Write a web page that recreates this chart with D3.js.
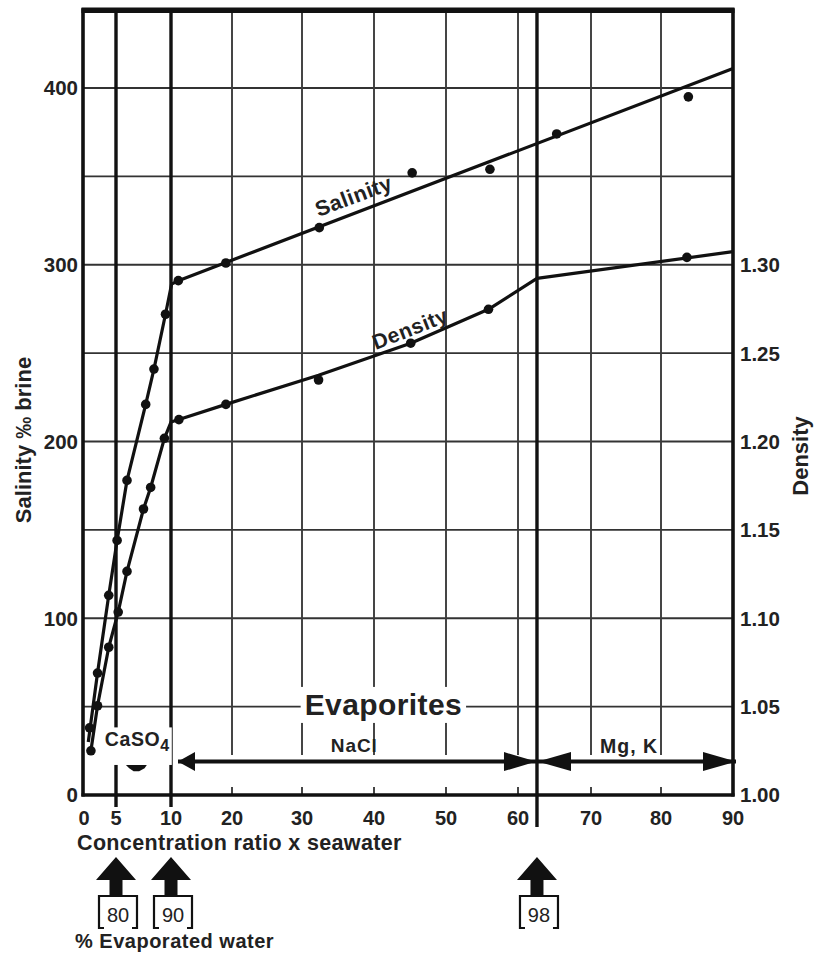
<!DOCTYPE html>
<html><head><meta charset="utf-8">
<script src="https://cdn.jsdelivr.net/npm/d3@7"></script>
<style>body{margin:0;background:#fff}svg{display:block}</style>
</head><body>
<svg id="c" width="815" height="955"></svg>
<script>
// ---------- data ----------
const xTickValues = [0, 5, 10, 20, 30, 40, 50, 60, 70, 80, 90];
const salTickValues = [0, 100, 200, 300, 400];
const gridValues = [50, 100, 150, 200, 250, 300, 350, 400];
const densTickValues = [1.00, 1.05, 1.10, 1.15, 1.20, 1.25, 1.30];

// salinity measurements (‰)
const salX = [1.0, 2.2, 3.9, 5.1, 6.0, 7.7, 8.45, 9.5, 11.2, 19.0, 32.4, 45.3, 56.1, 65.3, 83.8];
const salV = [38, 69, 113, 144, 178, 221, 241, 272, 291, 301, 321, 352, 354, 374, 395];
// salinity curve
const salLineX = [0.8, 2.2, 3.9, 5.1, 6.0, 7.7, 8.45, 9.5, 10.1, 11.2, 90];
const salLineV = [30, 69, 113, 144, 178, 221, 241, 272, 289, 291, 411];

// density measurements
const densX = [1.2, 2.2, 3.9, 5.2, 6.0, 7.5, 8.15, 9.4, 11.3, 19.0, 32.3, 45.1, 55.9, 83.6];
const densV = [1.025, 1.0505, 1.0836, 1.1035, 1.1265, 1.1618, 1.174, 1.2018, 1.2124, 1.221, 1.2348, 1.2556, 1.2748, 1.3042];
// density curve
const densLineX = [1.2, 2.2, 3.9, 5.2, 6.0, 7.5, 8.15, 9.4, 10.0, 11.3, 19.0, 32.3, 45.1, 55.9, 62.6, 90];
const densLineV = [1.025, 1.0505, 1.0836, 1.1035, 1.1265, 1.1618, 1.174, 1.2018, 1.211, 1.2124, 1.221, 1.2375, 1.2556, 1.2748, 1.2923, 1.3074];

// stages: concentration ratio marks and % evaporated water
const stageX = [5, 10, 62.6];
const stageLabels = ["80", "90", "98"];

// ---------- scales ----------
const x = d3.scaleLinear().domain(xTickValues).range([83, 116, 171, 232, 302, 374, 446, 518, 591, 661, 733]);
const yS = d3.scaleLinear().domain([0, 400]).range([795, 88]);
const yD = d3.scaleLinear().domain([1.0, 1.3]).range([yS(0), yS(300)]);
const TOP = 444;

const FONT = "'Liberation Sans', Arial, Helvetica, sans-serif";
const svg = d3.select("#c");
svg.append("rect").attr("width", 815).attr("height", 955).attr("fill", "#fff");

const g = svg.append("g");

// horizontal grid
g.selectAll(".hg").data(gridValues).join("line")
  .attr("x1", x(0)).attr("x2", x(90))
  .attr("y1", d => yS(d)).attr("y2", d => yS(d))
  .attr("stroke", "#333").attr("stroke-width", 1.9);

// vertical thin grid
const thinV = [20, 30, 40, 50, 60, 70, 80];
g.selectAll(".vg").data(thinV).join("line")
  .attr("x1", d => x(d)).attr("x2", d => x(d))
  .attr("y1", yS(TOP)).attr("y2", yS(22.6))
  .attr("stroke", "#3c3c3c").attr("stroke-width", 1.9);
// bottom ticks
g.selectAll(".bt").data(thinV).join("line")
  .attr("x1", d => x(d)).attr("x2", d => x(d))
  .attr("y1", yS(0)).attr("y2", yS(0) - 8)
  .attr("stroke", "#3c3c3c").attr("stroke-width", 1.9);

// thick stage lines
g.selectAll(".sl").data(stageX).join("line")
  .attr("x1", d => x(d)).attr("x2", d => x(d))
  .attr("y1", yS(TOP)).attr("y2", (d, i) => i < 2 ? yS(0) + 12 : yS(0) + 32)
  .attr("stroke", "#111").attr("stroke-width", 3.4);

// ---------- data lines ----------
const lineS = d3.line().x(d => x(d[0])).y(d => yS(d[1]));
const lineD = d3.line().x(d => x(d[0])).y(d => yD(d[1]));
g.append("path").attr("d", lineS(salLineX.map((v, i) => [v, salLineV[i]])))
  .attr("fill", "none").attr("stroke", "#111").attr("stroke-width", 3.2).attr("stroke-linejoin", "round");
g.append("path").attr("d", lineD(densLineX.map((v, i) => [v, densLineV[i]])))
  .attr("fill", "none").attr("stroke", "#111").attr("stroke-width", 3.2).attr("stroke-linejoin", "round");

g.selectAll(".sd").data(salX.map((v, i) => [v, salV[i]])).join("circle")
  .attr("cx", d => x(d[0])).attr("cy", d => yS(d[1])).attr("r", 4.8).attr("fill", "#111");
g.selectAll(".dd").data(densX.map((v, i) => [v, densV[i]])).join("circle")
  .attr("cx", d => x(d[0])).attr("cy", d => yD(d[1])).attr("r", 4.8).attr("fill", "#111");

// curve labels
function interp(xs, vs, xv) {
  for (let i = 0; i < xs.length - 1; i++) {
    if (xv >= xs[i] && xv <= xs[i + 1]) {
      const t = (xv - xs[i]) / (xs[i + 1] - xs[i]);
      return vs[i] + t * (vs[i + 1] - vs[i]);
    }
  }
  return vs[vs.length - 1];
}
function curveLabel(text, xs, vs, ys, x0, x1, off, size) {
  const p0 = [x(x0), ys(interp(xs, vs, x0))];
  const p1 = [x(x1), ys(interp(xs, vs, x1))];
  const ang = Math.atan2(p1[1] - p0[1], p1[0] - p0[0]) * 180 / Math.PI;
  g.append("text").text(text)
    .attr("transform", `translate(${p0[0]},${p0[1]}) rotate(${ang}) translate(0,${-off})`)
    .attr("font-family", FONT).attr("font-weight", "bold").attr("font-size", size)
    .attr("letter-spacing", 0.5).attr("fill", "#222");
}
curveLabel("Salinity", salLineX, salLineV, yS, 32.6, 45, 6.5, 21.5);
curveLabel("Density", densLineX, densLineV, yD, 40.5, 50, 5, 21);

// ---------- annotations ----------
// Evaporites
{
  const r = g.append("rect").attr("fill", "#fff");
  const t = g.append("text").text("Evaporites")
    .attr("x", x(41.3)).attr("y", yS(45.3)).attr("text-anchor", "middle")
    .attr("font-family", FONT).attr("font-weight", "bold").attr("font-size", 30)
    .attr("letter-spacing", 0.4).attr("fill", "#222");
  const b = t.node().getBBox();
  r.attr("x", b.x - 4).attr("y", b.y - 1).attr("width", b.width + 8).attr("height", b.height + 3);
}
// CaSO4
{
  const r = g.append("rect").attr("fill", "#fff");
  const t = g.append("text").attr("x", x(3.3)).attr("y", yS(27.5))
    .attr("font-family", FONT).attr("font-weight", "bold").attr("font-size", 19.5).attr("fill", "#222")
    .attr("letter-spacing", 0.6);
  t.append("tspan").text("CaSO");
  t.append("tspan").text("4").attr("font-size", 16).attr("dy", 5);
  const b = t.node().getBBox();
  r.attr("x", b.x - 4).attr("y", b.y - 1).attr("width", b.width + 6).attr("height", yS(17) - b.y + 1);
}
// small CaSO4 arrow remnant
g.append("path")
  .attr("d", `M${x(5.9)},${yS(17)} L${x(7.8)},${yS(17)} L${x(7.6)},${yS(15.2)} L${x(7.1)},${yS(13.5)} L${x(6.6)},${yS(13.5)} L${x(6.2)},${yS(15.2)} Z`)
  .attr("fill", "#111");

g.append("text").text("NaCl").attr("x", x(34)).attr("y", yS(24.3))
  .attr("font-family", FONT).attr("font-weight", "bold").attr("font-size", 19).attr("letter-spacing", 0.9).attr("fill", "#222");
g.append("text").text("Mg, K").attr("x", x(71.3)).attr("y", yS(23.8))
  .attr("font-family", FONT).attr("font-weight", "bold").attr("font-size", 19.5).attr("letter-spacing", 1).attr("fill", "#222");

// horizontal range arrows
const ay = yS(18.9);
function hArrow(xa, xb, headA, headB) {
  g.append("line").attr("x1", xa).attr("x2", xb).attr("y1", ay).attr("y2", ay)
    .attr("stroke", "#111").attr("stroke-width", 4);
  const H = 9.5;
  if (headA) g.append("path").attr("d", `M${xa},${ay} L${xa + headA},${ay - H} L${xa + headA},${ay + H} Z`).attr("fill", "#111");
  if (headB) g.append("path").attr("d", `M${xb},${ay} L${xb - headB},${ay - H} L${xb - headB},${ay + H} Z`).attr("fill", "#111");
}
hArrow(x(10) + 7, x(62.6) - 1, 17, 32);
hArrow(x(62.6) + 1, x(90) + 3, 33, 33);

// ---------- frame ----------
const fr = svg.append("g").attr("stroke", "#111");
fr.append("line").attr("x1", x(0)).attr("x2", x(0)).attr("y1", yS(TOP) - 2).attr("y2", yS(0) + 1.5).attr("stroke-width", 3.6);
fr.append("line").attr("x1", x(90)).attr("x2", x(90)).attr("y1", yS(TOP) - 2).attr("y2", yS(0) + 1.5).attr("stroke-width", 3.6);
fr.append("line").attr("x1", x(0) - 1.5).attr("x2", x(90) + 1.5).attr("y1", yS(0)).attr("y2", yS(0)).attr("stroke-width", 3.6);
fr.append("line").attr("x1", x(0) - 1.5).attr("x2", x(90) + 1.5).attr("y1", yS(TOP)).attr("y2", yS(TOP)).attr("stroke-width", 5.5);

// ---------- axis labels ----------
const lab = svg.append("g").attr("font-family", FONT).attr("font-weight", "bold").attr("fill", "#222");
lab.selectAll(".xl").data(xTickValues).join("text")
  .attr("x", d => x(d) + (d === 0 ? 1 : 0)).attr("y", 825).attr("text-anchor", "middle")
  .attr("font-size", 20).text(d => d);
lab.selectAll(".yl").data(salTickValues).join("text")
  .attr("x", 78).attr("y", d => yS(d)).attr("dy", "0.36em").attr("text-anchor", "end")
  .attr("font-size", 20.5).text(d => d);
lab.selectAll(".dl").data(densTickValues).join("text")
  .attr("x", 740).attr("y", d => yD(d)).attr("dy", "0.36em").attr("text-anchor", "start")
  .attr("font-size", 20.5).text(d => d.toFixed(2));

lab.append("text").text("Concentration ratio x seawater").attr("x", 77).attr("y", 850)
  .attr("font-size", 21.5).attr("letter-spacing", 0.35);
lab.append("text").text("% Evaporated water").attr("x", 75).attr("y", 948)
  .attr("font-size", 20).attr("letter-spacing", 0.5);
lab.append("text").text("Salinity ‰ brine").attr("transform", "translate(31,440) rotate(-90)")
  .attr("text-anchor", "middle").attr("font-size", 22);
lab.append("text").text("Density").attr("transform", "translate(808,456) rotate(-90)")
  .attr("text-anchor", "middle").attr("font-size", 22);

// ---------- stage arrows with % evaporated boxes ----------
const st = svg.append("g");
stageX.forEach((sx, i) => {
  const cx = x(sx);
  st.append("path").attr("d",
    `M${cx},857 L${cx + 20},880 L${cx + 6.5},880 L${cx + 6.5},897 L${cx - 6.5},897 L${cx - 6.5},880 L${cx - 20},880 Z`)
    .attr("fill", "#111");
  const bx = cx + 2;
  st.append("path").attr("d",
    `M${bx - 14},928 L${bx - 19},928 L${bx - 19},896 L${bx + 19},896 L${bx + 19},928 L${bx + 14},928`)
    .attr("fill", "none").attr("stroke", "#111").attr("stroke-width", 2.2);
  st.append("text").text(stageLabels[i]).attr("x", bx).attr("y", 922).attr("text-anchor", "middle")
    .attr("font-family", FONT).attr("font-size", 20).attr("fill", "#222");
});
</script>
</body></html>
